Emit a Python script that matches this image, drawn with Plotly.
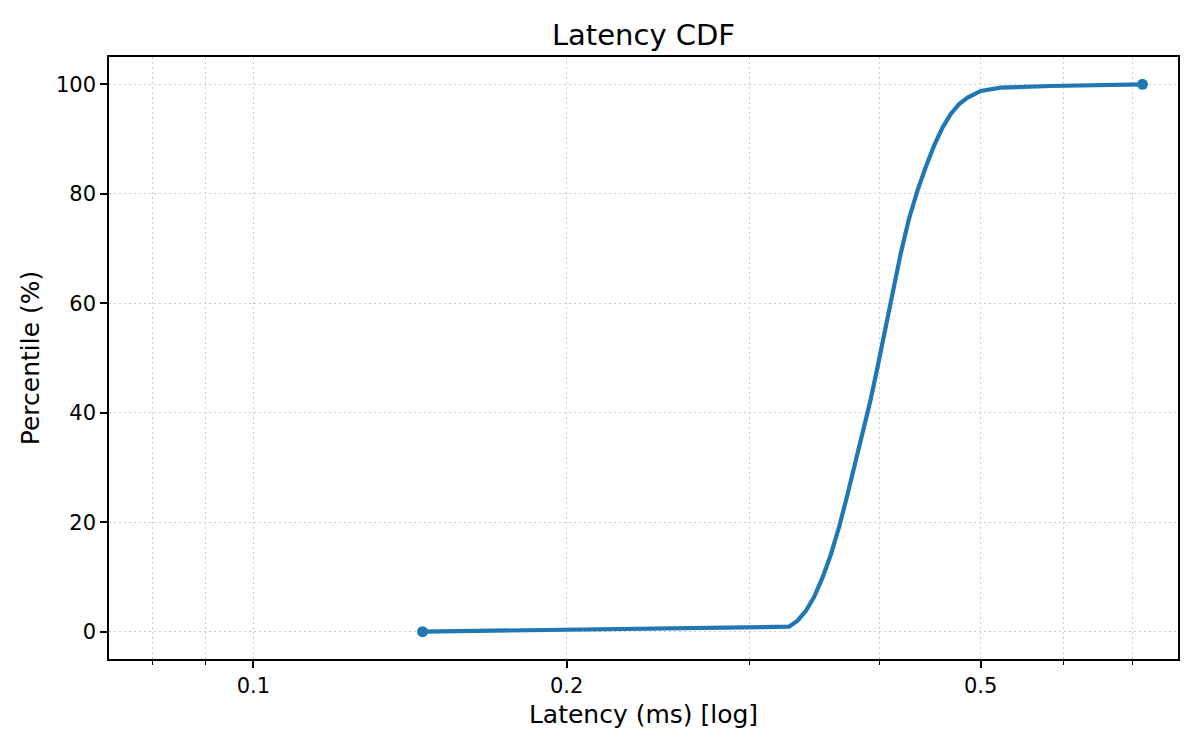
import plotly.graph_objects as go

# CDF points (latency in ms, percentile in %)
latency_ms = [0.1454, 0.3272, 0.3334, 0.3396, 0.3458, 0.3524, 0.3589, 0.3656,
              0.3724, 0.3793, 0.3864, 0.3917, 0.3976, 0.4044, 0.4115, 0.4190,
              0.4267, 0.4347, 0.4428, 0.4510, 0.4595, 0.4680, 0.4767, 0.4857,
              0.5002, 0.5227, 0.5840, 0.7153]
percentile = [0, 0.9, 2.0, 3.8, 6.3, 9.9, 14.1, 19.2,
              25.1, 31.2, 37.3, 42.2, 48.0, 55.0, 62.2, 69.2,
              75.5, 80.6, 84.9, 88.8, 92.1, 94.6, 96.4, 97.6,
              98.8, 99.4, 99.7, 100]

x_major = [0.1, 0.2, 0.5]
x_major_text = ["0.1", "0.2", "0.5"]
x_minor = [0.08, 0.09, 0.3, 0.4, 0.6, 0.7]
y_ticks = [0, 20, 40, 60, 80, 100]

blue = "#1f77b4"
grid = "#cccccc"
font = "DejaVu Sans"

fig = go.Figure()
fig.add_trace(go.Scatter(
    x=latency_ms, y=percentile, mode="lines",
    line=dict(color=blue, width=4.2),
    hoverinfo="x+y",
))
# markers only on the first and last sample
fig.add_trace(go.Scatter(
    x=[latency_ms[0], latency_ms[-1]], y=[percentile[0], percentile[-1]],
    mode="markers", marker=dict(color=blue, size=11),
))

axis_common = dict(
    showline=True, linecolor="black", linewidth=1.6, mirror=True,
    ticks="outside", ticklen=7, tickwidth=1.6, tickcolor="black",
    showgrid=True, gridcolor=grid, gridwidth=1.2, griddash="2px,3px",
    zeroline=False,
    tickfont=dict(family=font, size=21, color="black"),
)

fig.update_xaxes(
    type="log",
    range=[-1.1388, -0.1114],
    tickmode="array", tickvals=x_major, ticktext=x_major_text,
    minor=dict(tickvals=x_minor, ticks="outside", ticklen=4.2, tickwidth=1.25,
               tickcolor="black", showgrid=True, gridcolor=grid,
               gridwidth=1.2, griddash="2px,3px"),
    title=dict(text="Latency (ms) [log]", font=dict(family=font, size=25, color="black"),
               standoff=8),
    **axis_common,
)
fig.update_yaxes(
    range=[-5, 105],
    tickmode="array", tickvals=y_ticks,
    title=dict(text="Percentile (%)", font=dict(family=font, size=25, color="black"),
               standoff=9),
    **axis_common,
)

# the page body adds an 8px offset, so the figure is drawn 8px smaller
fig.update_layout(
    width=1192, height=742,
    margin=dict(l=101, r=22, t=49, b=91),
    paper_bgcolor="white", plot_bgcolor="white",
    showlegend=False,
    title=dict(text="Latency CDF", x=0.5, xref="paper", xanchor="center",
               y=1 - 27 / 742, yanchor="middle", yref="container",
               font=dict(family=font, size=29, color="black")),
)

fig.write_html("out.html")
